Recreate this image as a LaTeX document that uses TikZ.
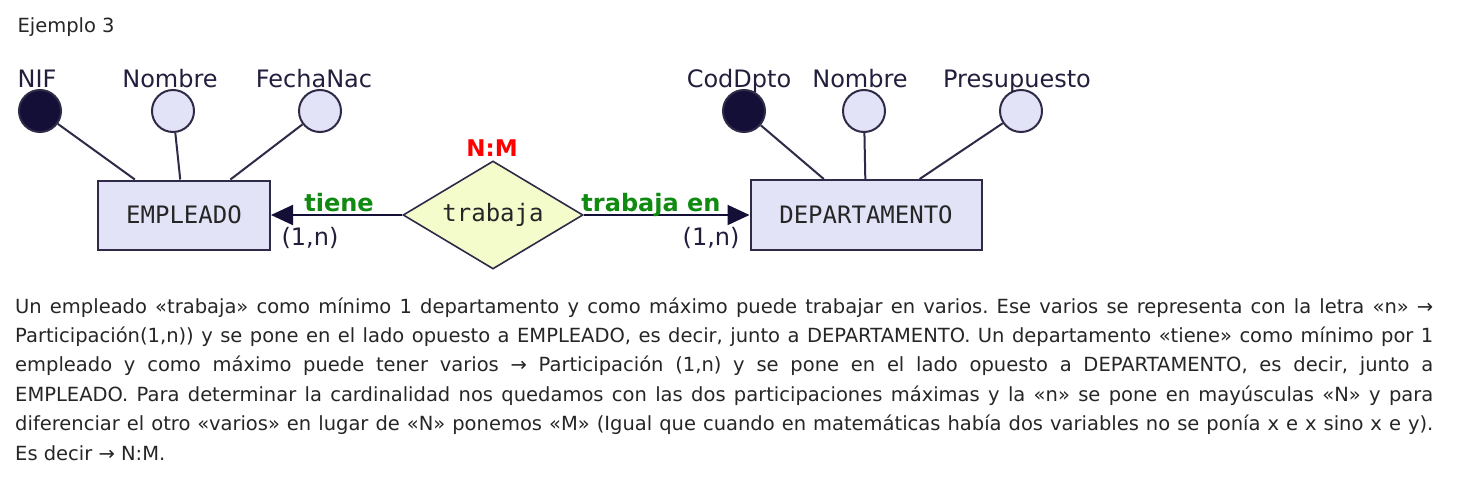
\documentclass[tikz,border=0pt]{standalone}
\usepackage{fontspec}
\setmainfont{DejaVu Sans}
\setmonofont{DejaVu Sans Mono}
\usetikzlibrary{shapes.geometric,arrows.meta}
\definecolor{erline}{HTML}{2E2A48}
\definecolor{erdark}{HTML}{140F36}
\definecolor{entfill}{HTML}{E3E3F7}
\definecolor{relfill}{HTML}{F4FCCB}
\definecolor{ertext}{HTML}{221F3D}
\definecolor{rolegreen}{HTML}{108A10}
\definecolor{bodytext}{HTML}{262626}
\hyphenpenalty=10000
\tolerance=10000
\frenchspacing
\begin{document}
\begin{tikzpicture}[x=1pt,y=-1pt,
  entity/.style={rectangle,draw=erline,line width=2pt,fill=entfill,inner sep=0pt,
    font=\ttfamily\fontsize{24}{28}\selectfont,text=black!85},
  relation/.style={diamond,aspect=1.67,draw=erline,line width=1.6pt,fill=relfill,inner sep=0pt,
    minimum width=180pt,minimum height=108pt,font=\ttfamily\fontsize{24}{28}\selectfont,text=black!85},
  attr/.style={circle,draw=erline,line width=2pt,fill=entfill,minimum size=42pt,inner sep=0pt},
  keyattr/.style={attr,fill=erdark},
  attrname/.style={anchor=base,font=\fontsize{24}{28}\selectfont,text=ertext},
  role/.style={anchor=base,font=\bfseries\fontsize{24}{28}\selectfont,text=rolegreen},
  card/.style={font=\fontsize{24}{28}\selectfont,text=ertext},
  conn/.style={draw=erline,line width=2pt},
  tip/.style={-{Triangle[length=22pt,width=20pt]}}]
\useasboundingbox (0,0) rectangle (1472,479);
\fill[white] (0,0) rectangle (1472,479);

\node[anchor=base west,font=\fontsize{19.5}{24}\selectfont,text=bodytext] (titulo) at (14,32) {Ejemplo 3};

\node[entity,minimum width=172pt,minimum height=69pt] (emp) at (184,215) {EMPLEADO};
\node[entity,minimum width=231pt,minimum height=70pt] (dpto) at (866,215) {DEPARTAMENTO};
\node[relation] (trabaja) at (493,215) {trabaja};
\node[anchor=base,font=\bfseries\fontsize{23}{28}\selectfont,text=red] (card) at (492,156) {N:M};

\node[keyattr] (nif) at (40,111) {};
\node[attr] (nombre) at (173,111) {};
\node[attr] (fecha) at (320,111) {};
\node[keyattr] (cod) at (744,111) {};
\node[attr] (nomdpto) at (864,111) {};
\node[attr] (presu) at (1021,111) {};

\node[attrname] (lnif) at (37,87) {NIF};
\node[attrname] (lnombre) at (170,87) {Nombre};
\node[attrname] (lfecha) at (314,87) {FechaNac};
\node[attrname] (lcod) at (739,87) {CodDpto};
\node[attrname] (lnomdpto) at (860,87) {Nombre};
\node[attrname] (lpresu) at (1017,87) {Presupuesto};

\foreach \a in {nif,nombre,fecha}
	\draw[conn] (\a) -- (emp);
\foreach \a in {cod,nomdpto,presu}
	\draw[conn] (\a) -- (dpto);

\draw[conn,draw=erdark,tip] (trabaja.west) -- (emp.east);
\draw[conn,draw=erdark,tip] (trabaja.east) -- (dpto.west);

\node[role] (tiene) at (339,211) {tiene};
\node[role] (trabajaen) at (651,211) {trabaja en};
\node[card,anchor=base west] (cemp) at (278,245) {(1,n)};
\node[card,anchor=base east] (cdpto) at (743,245) {(1,n)};

\node[anchor=base west,inner sep=0pt,text width=1418pt,align=justify,
  font=\fontsize{19.5}{29.4}\selectfont,text=bodytext] (texto) at (15,313)
  {Un empleado «trabaja» como mínimo 1 departamento y como máximo puede trabajar en varios. Ese varios se representa con la letra «n» →\linebreak
  Participación(1,n)) y se pone en el lado opuesto a EMPLEADO, es decir, junto a DEPARTAMENTO. Un departamento «tiene» como mínimo por 1\linebreak
  empleado y como máximo puede tener varios → Participación (1,n) y se pone en el lado opuesto a DEPARTAMENTO, es decir, junto a\linebreak
  EMPLEADO. Para determinar la cardinalidad nos quedamos con las dos participaciones máximas y la «n» se pone en mayúsculas «N» y para\linebreak
  diferenciar el otro «varios» en lugar de «N» ponemos «M» (Igual que cuando en matemáticas había dos variables no se ponía x e x sino x e y).\linebreak
  Es decir → N:M.};
\end{tikzpicture}
\end{document}
